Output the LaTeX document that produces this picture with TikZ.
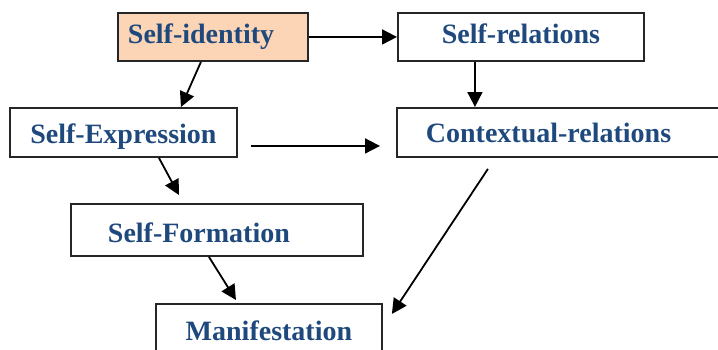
\documentclass[tikz,border=0pt]{standalone}
\usepackage{fontspec}
\setmainfont{Liberation Serif}
\usetikzlibrary{arrows.meta}
\definecolor{txtblue}{RGB}{31,73,125}
\definecolor{peach}{RGB}{251,213,181}
\tikzset{
    box/.style={draw=black!85, line width=1.9pt, anchor=north west, inner ysep=0pt,
        font=\fontsize{28}{32}\selectfont\bfseries, text=txtblue,
        text height=20pt, text depth=6pt},
    arr/.style={-{Triangle[length=15pt,width=15pt]}, line width=1.8pt},
}
\begin{document}
\begin{tikzpicture}[x=1pt,y=-1pt]
\clip (0,0) rectangle (718,349);

\node[box, fill=peach, minimum height=48pt, inner xsep=10pt, text width=170pt, align=left] (ident) at (117,12) {Self-identity};
\node[box, minimum height=48pt, minimum width=246pt, align=center] (rel) at (397,12) {Self-relations};
\node[box, minimum height=49pt, minimum width=227pt, align=center, text height=26pt, text depth=3pt] (expr) at (9,107) {Self-Expression};
\node[box, minimum height=49pt, inner xsep=29pt, text width=272pt, align=left, text height=24pt, text depth=4pt] (ctx) at (396,107) {Contextual-relations};
\node[box, minimum height=52pt, inner xsep=37pt, text width=218pt, align=left, text height=28pt, text depth=3pt] (form) at (70,203) {Self-Formation};
\node[box, minimum height=60pt, minimum width=226pt, align=center] (mani) at (155,303) {Manifestation};

\draw[arr] (ident.east) -- (rel.west);
\draw[arr] ([xshift=-12pt]ident.south) -- ([xshift=57.5pt]expr.north);
\draw[arr] ([xshift=-46pt]rel.south) -- ([xshift=-46pt]rel.south |- ctx.north);
\draw[arr] ([shift={(13pt,-13.5pt)}]expr.east) -- ([shift={(-16pt,-13.5pt)}]ctx.west);
\draw[arr] ([xshift=35.5pt]expr.south) -- ([shift={(-38pt,8pt)}]form.north);
\draw[arr] ([xshift=-8pt]form.south) -- ([shift={(-33pt,3pt)}]mani.north);
\draw[arr] ([shift={(-74pt,-11pt)}]ctx.south) -- ([shift={(9pt,20pt)}]mani.east);
\end{tikzpicture}
\end{document}
